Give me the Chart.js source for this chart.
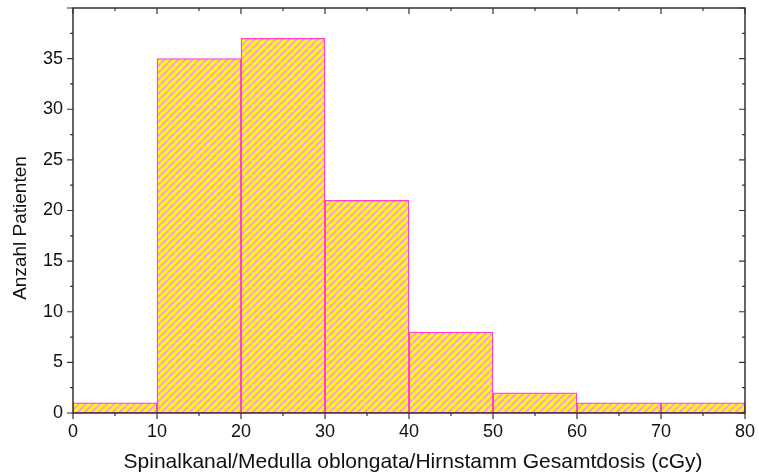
<!DOCTYPE html>
<html>
<head>
<meta charset="utf-8">
<script src="https://cdn.jsdelivr.net/npm/chart.js@4/dist/chart.umd.min.js"></script>
<style>
body{margin:0;background:#fff;}
canvas{display:block;}
</style>
</head>
<body>
<canvas id="hist" width="759" height="476"></canvas>
<script>
/* DATA */
const binStart=[0,10,20,30,40,50,60,70];
const binWidth=10;
const counts=[1,35,37,21,8,2,1,1];
const xTitle="Spinalkanal/Medulla oblongata/Hirnstamm Gesamtdosis (cGy)";
const yTitle="Anzahl Patienten";

const FONT="'Liberation Sans', Arial, sans-serif";
const AXIS="#333";

/* HATCH FILL */
function hatchFill(){
const n=7;
const c=document.createElement("canvas");
c.width=c.height=n;
const g=c.getContext("2d");
g.fillStyle="#ffff00";
g.fillRect(0,0,n,n);
g.strokeStyle="#ff96e6";
g.lineWidth=2;
g.beginPath();
for(let o=-n;o<=n;o+=n){
g.moveTo(o,n);
g.lineTo(o+n,0);
}
g.stroke();
return document.getElementById("hist").getContext("2d").createPattern(c,"repeat");
}

/* FRAME, TICKS, TITLES */
const frame={
id:"frame",
afterDraw(chart){
const {ctx,chartArea:a,scales:{x,y}}=chart;
ctx.save();
ctx.strokeStyle=AXIS;
ctx.lineWidth=1.5;
ctx.strokeRect(a.left,a.top,a.right-a.left,a.bottom-a.top);
ctx.lineWidth=1.2;
ctx.beginPath();
for(let v=0;v<=80;v+=5){
const px=x.getPixelForValue(v);
const len=v%10===0?6:3;
ctx.moveTo(px,a.bottom);ctx.lineTo(px,a.bottom+len);
ctx.moveTo(px,a.top);ctx.lineTo(px,a.top+len);
}
for(let v=0;v<=40;v+=2.5){
const py=y.getPixelForValue(v);
const len=v%5===0?6:3;
ctx.moveTo(a.left,py);ctx.lineTo(a.left-len,py);
ctx.moveTo(a.right,py);ctx.lineTo(a.right-len,py);
}
ctx.stroke();

ctx.fillStyle="#111";
ctx.font="21px "+FONT;
ctx.textAlign="center";
ctx.textBaseline="alphabetic";
ctx.fillText(xTitle,(a.left+a.right)/2+4,468);

ctx.translate(26,228);
ctx.rotate(-Math.PI/2);
ctx.font="19px "+FONT;
ctx.fillText(yTitle,0,0);
ctx.restore();
}
};

/* CHART */
new Chart(document.getElementById("hist"),{
type:"bar",
data:{
datasets:[{
data:counts.map((c,i)=>({x:binStart[i]+binWidth/2,y:c})),
backgroundColor:hatchFill(),
borderColor:"#ff3fcf",
borderWidth:1.3,
borderSkipped:false,
barPercentage:1,
categoryPercentage:1
}]
},
options:{
responsive:false,
devicePixelRatio:1,
animation:false,
layout:{padding:{top:8,right:14,left:0,bottom:0}},
plugins:{legend:{display:false},tooltip:{enabled:false}},
scales:{
x:{
type:"linear",
min:0,max:80,
offset:false,
grid:{display:false,drawTicks:false},
border:{display:false},
ticks:{stepSize:10,padding:8,color:"#111",font:{family:FONT,size:18}},
afterFit(s){s.height=63;s.paddingLeft=0;s.paddingRight=0;}
},
y:{
min:0,max:40,
grid:{display:false,drawTicks:false},
border:{display:false},
ticks:{stepSize:5,padding:10,color:"#111",font:{family:FONT,size:18},
callback:v=>v===40?"":v},
afterFit(s){s.width=73;s.paddingTop=0;s.paddingBottom=0;}
}
}
},
plugins:[frame]
});
</script>
</body>
</html>
